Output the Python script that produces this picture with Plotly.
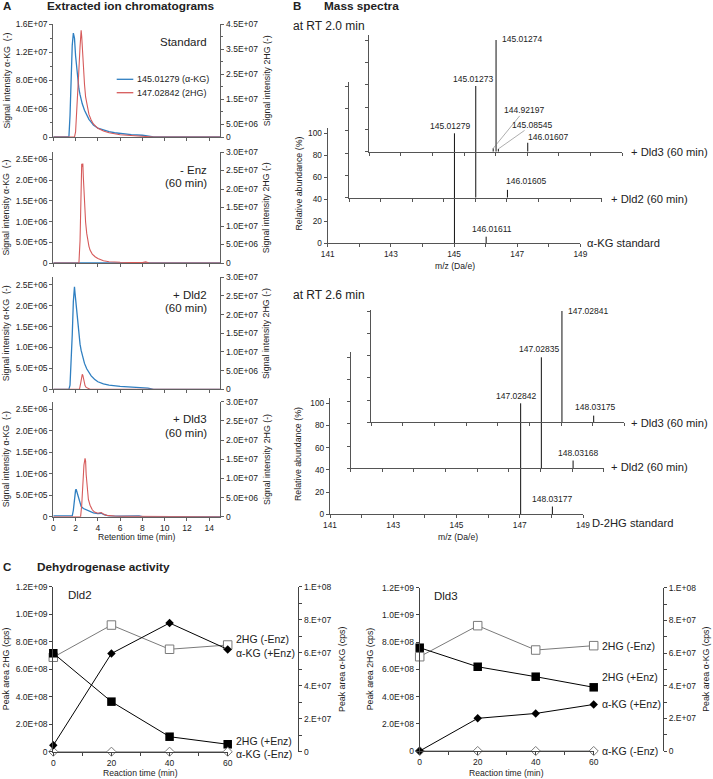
import plotly.graph_objects as go

W, H = 713, 779
FONT = "Liberation Sans, Arial, Helvetica, sans-serif"
BLUE = "#2f7fc1"
RED = "#d65a5a"
AXC = "#606060"
TXT = "#222222"

def px(x):
    return x / W

def py(y):
    return 1 - y / H

# ====================== DATA ======================
# ---- Panel A: extracted ion chromatograms (retention time in min, signal) ----
rt_std_akg = [0, 1.0, 1.4, 1.5, 1.6, 1.7, 1.8, 1.9, 2.0, 2.1, 2.2, 2.3, 2.4, 2.5, 2.6, 2.8, 3.0, 3.2,
              3.4, 3.6, 4.0, 4.5, 5.0, 5.5, 6.0, 7.0, 8.0, 8.5, 9.0, 15.0]
sig_std_akg = [0, 0, 0, 3.0e6, 9.0e6, 1.3e7, 1.47e7, 1.40e7, 1.15e7, 9.5e6, 8.0e6, 6.8e6, 6.0e6, 5.3e6,
               4.7e6, 3.8e6, 3.1e6, 2.5e6, 2.1e6, 1.7e6, 1.25e6, 0.95e6, 0.75e6, 0.6e6, 0.5e6, 0.35e6,
               0.25e6, 0.15e6, 0, 0]
rt_std_2hg = [0, 1.9, 2.0, 2.1, 2.2, 2.3, 2.4, 2.5, 2.55, 2.6, 2.7, 2.8, 2.9, 3.0, 3.2, 3.4, 3.6, 3.8,
              4.0, 4.5, 5.0, 6.0, 7.0, 8.0, 9.0, 15.0]
sig_std_2hg = [0, 0, 2e6, 9e6, 1.8e7, 2.7e7, 3.6e7, 4.25e7, 4.0e7, 3.5e7, 2.7e7, 2.1e7, 1.6e7, 1.3e7,
               9.0e6, 6.8e6, 5.2e6, 4.3e6, 3.5e6, 2.4e6, 1.7e6, 0.9e6, 0.5e6, 0.3e6, 0, 0]

rt_enz_akg = [0, 2.0, 3.0, 4.0, 6.0, 8.0, 15.0]
sig_enz_akg = [0, 0, 5e3, 1e4, 8e3, 0, 0]
rt_enz_2hg = [0, 2.3, 2.4, 2.5, 2.55, 2.6, 2.65, 2.7, 2.75, 2.8, 2.9, 3.0, 3.1, 3.2, 3.3, 3.5, 3.75,
              4.0, 4.5, 5.0, 6.0, 7.0, 8.0, 8.3, 8.6, 15.0]
sig_enz_2hg = [0, 0, 6e6, 2.2e7, 2.68e7, 2.6e7, 2.69e7, 2.3e7, 1.9e7, 1.5e7, 1.1e7, 8e6, 6e6, 4.5e6,
               3.5e6, 2.4e6, 1.7e6, 1.2e6, 0.6e6, 0.35e6, 0.2e6, 0.1e6, 0.1e6, 0.3e6, 0, 0]

rt_dld2_akg = [0, 1.4, 1.5, 1.6, 1.7, 1.8, 1.85, 1.9, 1.95, 2.0, 2.1, 2.2, 2.3, 2.4, 2.5, 2.6, 2.8,
               3.0, 3.2, 3.4, 3.7, 4.0, 4.5, 5.0, 6.0, 7.0, 8.0, 8.5, 9.0, 15.0]
sig_dld2_akg = [0, 0, 0.1e6, 0.6e6, 1.3e6, 2.1e6, 2.35e6, 2.45e6, 2.3e6, 2.15e6, 1.8e6, 1.5e6,
                1.28e6, 1.08e6, 0.93e6, 0.8e6, 0.62e6, 0.49e6, 0.4e6, 0.32e6, 0.24e6, 0.18e6,
                0.13e6, 0.1e6, 0.07e6, 0.05e6, 0.04e6, 0.03e6, 0, 0]
rt_dld2_2hg = [0, 2.35, 2.45, 2.55, 2.6, 2.65, 2.75, 2.85, 2.95, 3.1, 3.3, 15.0]
sig_dld2_2hg = [0, 0, 1.5e6, 3.5e6, 4.0e6, 3.8e6, 2.2e6, 1.0e6, 0.5e6, 0.2e6, 0, 0]

rt_dld3_akg = [0, 1.7, 1.8, 1.9, 2.0, 2.05, 2.1, 2.2, 2.3, 2.4, 2.5, 2.7, 3.0, 3.3, 3.6, 4.0, 4.3,
               4.6, 5.0, 6.0, 7.0, 7.7, 8.0, 15.0]
sig_dld3_akg = [2e4, 2e4, 0.15e6, 0.45e6, 0.62e6, 0.64e6, 0.6e6, 0.52e6, 0.42e6, 0.32e6, 0.24e6,
                0.19e6, 0.16e6, 0.12e6, 0.09e6, 0.07e6, 0.08e6, 0.04e6, 0.02e6, 0.01e6, 0.01e6,
                0.02e6, 0, 0]
rt_dld3_2hg = [0, 2.45, 2.55, 2.65, 2.75, 2.85, 2.9, 2.95, 3.05, 3.15, 3.3, 3.5, 3.7, 4.0, 4.3, 4.5,
               4.8, 5.5, 6.5, 8.0, 15.0]
sig_dld3_2hg = [0, 0, 3e6, 9e6, 1.35e7, 1.52e7, 1.45e7, 1.1e7, 7e6, 4.5e6, 3.0e6, 1.8e6, 1.2e6,
                0.9e6, 1.1e6, 0.7e6, 0.35e6, 0.15e6, 0.08e6, 0.05e6, 0]

A_titles = [["Standard"], ["- Enz", "(60 min)"], ["+ Dld2", "(60 min)"], ["+ Dld3", "(60 min)"]]
A_legend = ["145.01279 (α-KG)", "147.02842 (2HG)"]
A_xticks = [0, 2, 4, 6, 8, 10, 12, 14]
A1_lvals = [0, 4e6, 8e6, 1.2e7, 1.6e7]
A1_ltext = ["0", "4.0E+06", "8.0E+06", "1.2E+07", "1.6E+07"]
A1_lminor = [2e6, 6e6, 1e7, 1.4e7]
A1_rvals = [0, 5e6, 1.5e7, 2.5e7, 3.5e7, 4.5e7]
A1_rtext = ["0", "5.0E+06", "1.5E+07", "2.5E+07", "3.5E+07", "4.5E+07"]
A1_rminor = [1e7, 2e7, 3e7, 4e7]
A_lvals = [0, 5e5, 1e6, 1.5e6, 2e6, 2.5e6]
A_ltext = ["0", "5.0E+05", "1.0E+06", "1.5E+06", "2.0E+06", "2.5E+06"]
A_rvals = [0, 5e6, 1e7, 1.5e7, 2e7, 2.5e7, 3e7]
A_rtext = ["0", "5.0E+06", "1.0E+07", "1.5E+07", "2.0E+07", "2.5E+07", "3.0E+07"]

# ---- Panel B: mass spectra (m/z, relative abundance %) ----
mz_akg_std = [145.01279, 146.01611]
ab_akg_std = [100, 6]
mz_akg_dld2 = [145.01273, 146.01605]
ab_akg_dld2 = [100, 7]
mz_akg_dld3 = [144.92197, 145.01274, 145.08545, 146.01607]
ab_akg_dld3 = [3, 100, 2.5, 8]
mz_hg_std = [147.02842, 148.03177]
ab_hg_std = [100, 7]
mz_hg_dld2 = [147.02835, 148.03168]
ab_hg_dld2 = [100, 7]
mz_hg_dld3 = [147.02841, 148.03175]
ab_hg_dld3 = [100, 6]
B_names = ["α-KG standard", "+ Dld2 (60 min)", "+ Dld3 (60 min)",
           "D-2HG standard", "+ Dld2 (60 min)", "+ Dld3 (60 min)"]
B_xticks = [141, 142, 143, 144, 145, 146, 147, 148, 149]
B_xtext = ["141", "", "143", "", "145", "", "147", "", "149"]
B_yticks = [0, 20, 40, 60, 80, 100]

# ---- Panel C: dehydrogenase activity ----
time_min = [0, 20, 40, 60]
dld2_2hg_plus = [7.16e8, 3.64e8, 1.09e8, 0.54e8]
dld2_2hg_minus = [6.87e8, 9.21e8, 7.45e8, 7.76e8]
dld2_akg_plus = [3.9e6, 5.95e7, 7.8e7, 6.2e7]
dld2_akg_minus = [0, 0, 0, 0]
dld3_2hg_plus = [7.59e8, 6.19e8, 5.46e8, 4.68e8]
dld3_2hg_minus = [6.93e8, 9.21e8, 7.42e8, 7.74e8]
dld3_akg_plus = [0, 2.0e7, 2.3e7, 2.85e7]
dld3_akg_minus = [0, 0, 0, 0]
C_series = ["2HG (-Enz)", "2HG (+Enz)", "α-KG (+Enz)", "α-KG (-Enz)"]
C_lvals = [0, 2e8, 4e8, 6e8, 8e8, 1e9, 1.2e9]
C_ltext = ["0", "2.0E+08", "4.0E+08", "6.0E+08", "8.0E+08", "1.0E+09", "1.2E+09"]
C_rvals = [0, 2e7, 4e7, 6e7, 8e7, 1e8]
C_rtext = ["0", "2.E+07", "4.E+07", "6.E+07", "8.E+07", "1.E+08"]
C_rminor = [1e7, 3e7, 5e7, 7e7, 9e7]
C_xticks = [0, 20, 40, 60]
C_xminor = [10, 30, 50]

# ====================== FIGURE ======================
fig = go.Figure()
layout = {}
ann = []
shapes = []


def key(kind, n):
    return f"{kind}axis" + ("" if n == 1 else str(n))


def ref(kind, n):
    return kind + ("" if n == 1 else str(n))


def text(x, y, s, size=9, xanchor="center", yanchor="middle", bold=False, angle=0, color=TXT):
    ann.append(dict(x=px(x), y=py(y), xref="paper", yref="paper", text=f"<b>{s}</b>" if bold else s,
                    showarrow=False, xanchor=xanchor, yanchor=yanchor, textangle=angle,
                    borderpad=0, font=dict(family=FONT, size=size, color=color)))


TICKF = dict(family=FONT, size=8.5, color=TXT)

# ---------------- Panel A ----------------
text(2, 6, "A", size=11.5, xanchor="left", bold=True)
text(46, 6, "Extracted ion chromatograms", size=11.8, xanchor="left", bold=True)

A_X0, A_X1 = 53.3, 220.4
A_rows = [(24, 137), (152, 263), (277.3, 389.3), (401.7, 516.7)]
A_data = [
    (rt_std_akg, sig_std_akg, rt_std_2hg, sig_std_2hg),
    (rt_enz_akg, sig_enz_akg, rt_enz_2hg, sig_enz_2hg),
    (rt_dld2_akg, sig_dld2_akg, rt_dld2_2hg, sig_dld2_2hg),
    (rt_dld3_akg, sig_dld3_akg, rt_dld3_2hg, sig_dld3_2hg),
]
A_lmax = [1.6e7, 2.68e6, 2.68e6, 2.68e6]
A_rmax = [4.5e7, 3.0e7, 3.0e7, 3.0e7]

for i, (top, bot) in enumerate(A_rows):
    xn, yl, yr = i + 1, 2 * i + 1, 2 * i + 2
    last = i == 3
    layout[key("x", xn)] = dict(domain=[px(A_X0), px(A_X1)], anchor=ref("y", yl), range=[0, 15],
                                showline=True, linecolor=AXC, linewidth=1, ticks="outside", ticklen=3,
                                tickcolor=AXC, tickvals=A_xticks, showticklabels=last,
                                tickfont=TICKF, showgrid=False, zeroline=False, automargin=False)
    if i == 0:
        lv, lt, lm, rv, rt, rm = A1_lvals, A1_ltext, A1_lminor, A1_rvals, A1_rtext, A1_rminor
    else:
        lv, lt, lm, rv, rt, rm = A_lvals, A_ltext, [], A_rvals, A_rtext, []
    layout[key("y", yl)] = dict(domain=[py(bot), py(top)], anchor=ref("x", xn), range=[0, A_lmax[i]],
                                showline=True, linecolor=AXC, linewidth=1, ticks="outside", ticklen=3,
                                tickcolor=AXC, tickvals=lv, ticktext=lt, tickfont=TICKF,
                                showgrid=False, zeroline=False, automargin=False,
                                minor=dict(tickvals=lm, ticks="outside", ticklen=2, tickcolor=AXC))
    layout[key("y", yr)] = dict(overlaying=ref("y", yl), side="right", anchor=ref("x", xn),
                                range=[0, A_rmax[i]], showline=True, linecolor=AXC, linewidth=1,
                                ticks="outside", ticklen=3, tickcolor=AXC, tickvals=rv, ticktext=rt,
                                tickfont=TICKF, showgrid=False, zeroline=False, automargin=False,
                                minor=dict(tickvals=rm, ticks="outside", ticklen=2, tickcolor=AXC))
    ta, sa, th, sh = A_data[i]
    fig.add_trace(go.Scatter(x=ta, y=sa, mode="lines", line=dict(color=BLUE, width=1.3),
                             xaxis=ref("x", xn), yaxis=ref("y", yl), cliponaxis=True))
    fig.add_trace(go.Scatter(x=th, y=sh, mode="lines", line=dict(color=RED, width=1.1),
                             xaxis=ref("x", xn), yaxis=ref("y", yr), cliponaxis=True))
    cy = (top + bot) / 2
    text(6, cy, "Signal intensity α-KG  (-)", size=8.8, angle=-90)
    text(266.7, cy, "Signal intensity 2HG (-)", size=8.8, angle=-90)
    for j, line in enumerate(A_titles[i]):
        text(208, top + 17.5 + 13.4 * j, line, size=11.5, xanchor="right")

text(136.7, 537, "Retention time (min)", size=8.6)
for k, (lbl, col) in enumerate(zip(A_legend, [BLUE, RED])):
    yy = 79.3 + 13.4 * k
    shapes.append(dict(type="line", xref="paper", yref="paper", x0=px(116.7), x1=px(133.3),
                       y0=py(yy), y1=py(yy), line=dict(color=col, width=1.3)))
    text(136, yy, lbl, size=9, xanchor="left")

# ---------------- Panel B ----------------
text(292, 6, "B", size=11.5, xanchor="left", bold=True)
text(323, 6, "Mass spectra", size=11.8, xanchor="left", bold=True)
text(292, 26, "at RT 2.0 min", size=12, xanchor="left")
text(292, 295, "at RT 2.6 min", size=12, xanchor="left")

B_geom = [
    dict(x0=327.7, x1=580.4, base=243.3, y100=133.3, top=127.7, labels=True, nx=6, ny=0),
    dict(x0=349.0, x1=601.7, base=197.7, y100=86.0, top=81.7, labels=False, nx=8, ny=1),
    dict(x0=369.3, x1=622.0, base=151.7, y100=40.0, top=35.0, labels=False, nx=7.5, ny=0),
    dict(x0=330.0, x1=583.0, base=514.3, y100=403.3, top=397.7, labels=True, nx=8, ny=9),
    dict(x0=350.7, x1=603.7, base=468.3, y100=357.3, top=351.7, labels=False, nx=6, ny=-1.5),
    dict(x0=371.3, x1=624.3, base=422.3, y100=311.0, top=310.0, labels=False, nx=5.5, ny=0.5),
]
B_data = [(mz_akg_std, ab_akg_std), (mz_akg_dld2, ab_akg_dld2), (mz_akg_dld3, ab_akg_dld3),
          (mz_hg_std, ab_hg_std), (mz_hg_dld2, ab_hg_dld2), (mz_hg_dld3, ab_hg_dld3)]
# label placement per peak: ("t", xanchor, xshift, yanchor, yshift)  or ("a", ax, ay)
B_lab = [
    [("t", "center", -4, "bottom", 1), ("t", "center", 6, "bottom", 1.5)],
    [("t", "center", -3, "bottom", 1), ("t", "left", -2, "bottom", 3)],
    [("a", 31, -38), ("t", "left", 5, "middle", 1.5), ("a", 34, -24), ("t", "left", -1, "bottom", 0)],
    [("t", "center", -5, "bottom", 1), ("t", "center", 0, "bottom", 2)],
    [("t", "center", -2, "bottom", 2), ("t", "center", 5, "bottom", 2)],
    [("t", "left", 5, "middle", 0), ("t", "center", 1, "bottom", 3)],
]
BAX = "#555555"
for L, g in enumerate(B_geom):
    xn, yn = 5 + L, 9 + L
    ymax = (g["base"] - g["top"]) / (g["base"] - g["y100"]) * 100
    layout[key("x", xn)] = dict(domain=[px(g["x0"]), px(g["x1"])], anchor=ref("y", yn),
                                range=[141, 149], showline=True, linecolor=BAX, linewidth=1.3,
                                ticks="outside", ticklen=3, tickcolor=BAX, tickvals=B_xticks,
                                ticktext=B_xtext, showticklabels=g["labels"],
                                tickfont=dict(family=FONT, size=8.3, color=TXT),
                                showgrid=False, zeroline=False, automargin=False)
    layout[key("y", yn)] = dict(domain=[py(g["base"]), py(g["top"])], anchor=ref("x", xn),
                                range=[0, ymax], showline=True, linecolor=BAX, linewidth=1.3,
                                ticks="outside", ticklen=3, tickcolor=BAX, tickvals=B_yticks,
                                showticklabels=g["labels"],
                                tickfont=dict(family=FONT, size=8.3, color=TXT),
                                showgrid=False, zeroline=False, automargin=False)
    mz, ab = B_data[L]
    xs, ys = [], []
    for m, a in zip(mz, ab):
        xs += [m, m, None]
        ys += [0, a, None]
    fig.add_trace(go.Scatter(x=xs, y=ys, mode="lines", line=dict(color="#111111", width=1),
                             xaxis=ref("x", xn), yaxis=ref("y", yn), cliponaxis=False))
    for (m, a), spec in zip(zip(mz, ab), B_lab[L]):
        lab = f"{m:.5f}"
        if spec[0] == "a":
            ann.append(dict(x=m, y=a, xref=ref("x", xn), yref=ref("y", yn), text=lab,
                            showarrow=True, arrowhead=0, arrowwidth=0.6, arrowcolor="#777777",
                            ax=spec[1], ay=spec[2], borderpad=0,
                            font=dict(family=FONT, size=8.5, color=TXT)))
        else:
            _, xa, xs_, ya, ys_ = spec
            ann.append(dict(x=m, y=a, xref=ref("x", xn), yref=ref("y", yn), text=lab,
                            showarrow=False, xanchor=xa, yanchor=ya, xshift=xs_, yshift=ys_,
                            borderpad=0, font=dict(family=FONT, size=8.5, color=TXT)))
    text(g["x1"] + g["nx"], g["base"] + g["ny"], B_names[L], size=11.2, xanchor="left")
    if g["labels"]:
        text((g["x0"] + g["x1"]) / 2 + 1, g["base"] + 23, "m/z (Da/e)", size=8.6)
        text(298, (g["base"] + g["top"]) / 2 - 2, "Relative abundance (%)", size=8.8, angle=-90)

# ---------------- Panel C ----------------
text(2, 566.7, "C", size=11.5, xanchor="left", bold=True)
text(36, 566.7, "Dehydrogenase activity", size=11.8, xanchor="left", bold=True)

C_geom = [
    dict(x0=53.3, x1=227.7, base=751.7, top=586.7, rpos=298.3, ltx=6, rtx=341.7,
         name="Dld2", lab_x=235, lab_y=[639.3, 740.7, 652.7, 754.0]),
    dict(x0=419.7, x1=593.7, base=751.0, top=587.7, rpos=663.0, ltx=370, rtx=706.5,
         name="Dld3", lab_x=601.3, lab_y=[646.0, 677.3, 704.0, 751.0]),
]
C_data = [
    (dld2_2hg_minus, dld2_2hg_plus, dld2_akg_plus, dld2_akg_minus),
    (dld3_2hg_minus, dld3_2hg_plus, dld3_akg_plus, dld3_akg_minus),
]
CAX = "#444444"
GRY = "#7a7a7a"
for P, g in enumerate(C_geom):
    xn, yl, yr = 11 + P, 15 + 2 * P, 16 + 2 * P
    layout[key("x", xn)] = dict(domain=[px(g["x0"]), px(g["x1"])], anchor=ref("y", yl), range=[0, 60],
                                showline=True, linecolor=CAX, linewidth=1, ticks="outside", ticklen=3,
                                tickcolor=CAX, tickvals=C_xticks, tickfont=TICKF, showgrid=False,
                                zeroline=False, automargin=False,
                                minor=dict(tickvals=C_xminor, ticks="outside", ticklen=3, tickcolor=CAX))
    layout[key("y", yl)] = dict(domain=[py(g["base"]), py(g["top"])], anchor=ref("x", xn),
                                range=[0, 1.2e9], showline=True, linecolor=CAX, linewidth=1,
                                ticks="outside", ticklen=3, tickcolor=CAX, tickvals=C_lvals,
                                ticktext=C_ltext, tickfont=TICKF, showgrid=False, zeroline=False,
                                automargin=False)
    layout[key("y", yr)] = dict(overlaying=ref("y", yl), side="right", anchor="free",
                                position=px(g["rpos"]), range=[0, 1e8], showline=True, linecolor=CAX,
                                linewidth=1, ticks="outside", ticklen=3, tickcolor=CAX,
                                tickvals=C_rvals, ticktext=C_rtext, tickfont=TICKF, showgrid=False,
                                zeroline=False, automargin=False,
                                minor=dict(tickvals=C_rminor, ticks="outside", ticklen=3, tickcolor=CAX))
    hg_m, hg_p, akg_p, akg_m = C_data[P]
    X, YL, YR = ref("x", xn), ref("y", yl), ref("y", yr)
    fig.add_trace(go.Scatter(x=time_min, y=akg_m, mode="lines+markers", xaxis=X, yaxis=YR,
                             line=dict(color=GRY, width=1), cliponaxis=False,
                             marker=dict(symbol="diamond", size=7, color="white",
                                         line=dict(color=GRY, width=1))))
    fig.add_trace(go.Scatter(x=time_min, y=hg_m, mode="lines+markers", xaxis=X, yaxis=YL,
                             line=dict(color=GRY, width=1), cliponaxis=False,
                             marker=dict(symbol="square", size=8.5, color="white",
                                         line=dict(color=GRY, width=1))))
    fig.add_trace(go.Scatter(x=time_min, y=akg_p, mode="lines+markers", xaxis=X, yaxis=YR,
                             line=dict(color="black", width=1), cliponaxis=False,
                             marker=dict(symbol="diamond", size=6.5, color="black")))
    fig.add_trace(go.Scatter(x=time_min, y=hg_p, mode="lines+markers", xaxis=X, yaxis=YL,
                             line=dict(color="black", width=1), cliponaxis=False,
                             marker=dict(symbol="square", size=8.5, color="black")))
    cy = (g["base"] + g["top"]) / 2
    text(g["ltx"], cy, "Peak area 2HG (cps)", size=8.8, angle=-90)
    text(g["rtx"], cy, "Peak area α-KG (cps)", size=8.8, angle=-90)
    text((g["x0"] + g["x1"]) / 2, 772.5, "Reaction time (min)", size=8.6)
    text(g["x0"] + 13.5, g["top"] + 8.5, g["name"], size=11.5, xanchor="left")
    for s, yy in zip(C_series, g["lab_y"]):
        text(g["lab_x"], yy, s, size=10.5, xanchor="left")

layout.update(width=W, height=H, margin=dict(l=0, r=0, t=0, b=0, pad=0), paper_bgcolor="white",
              plot_bgcolor="rgba(0,0,0,0)", showlegend=False, annotations=ann, shapes=shapes,
              font=dict(family=FONT, size=9, color=TXT), autosize=False)
fig.update_layout(**layout)
fig.write_html("out.html", config={"displayModeBar": False},
               post_script="document.body.style.margin='0px';document.body.style.overflow='hidden';")
